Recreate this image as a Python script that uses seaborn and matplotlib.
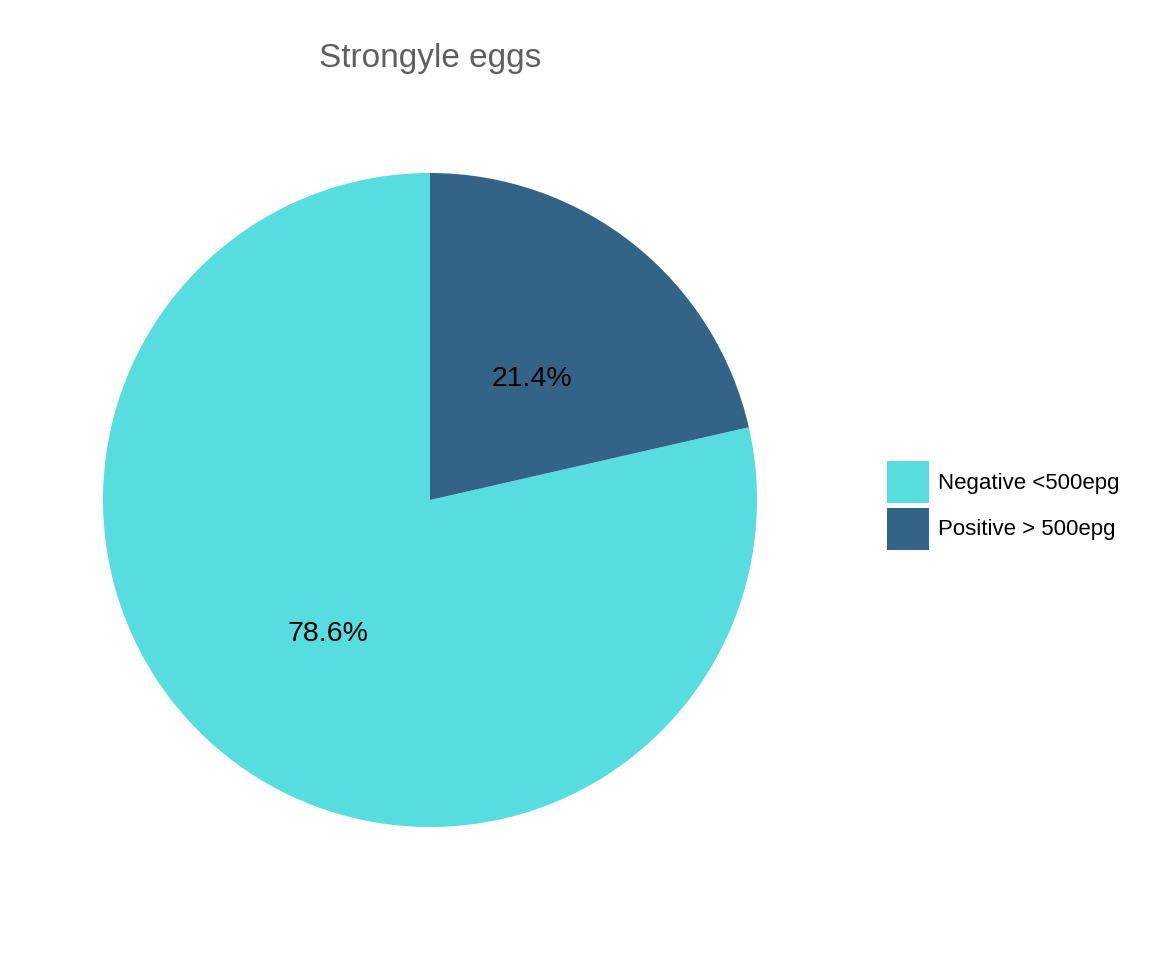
import seaborn as sns
import matplotlib.pyplot as plt

# data
categories = ['Negative <500epg', 'Positive > 500epg']
counts = [11, 3]
colors = ['#57DDE0', '#336488']
title = 'Strongyle eggs'

sns.set_theme(style='white')
plt.rcParams['font.family'] = ['Liberation Sans', 'DejaVu Sans']

fig = plt.figure(figsize=(11.52, 9.6), dpi=100)
ax = fig.add_axes([(430 - 327) / 1152, (960 - 827) / 960, 654 / 1152, 654 / 960])

wedges, texts, autotexts = ax.pie(counts, colors=colors, startangle=90, counterclock=True,
                                  autopct='%1.1f%%', pctdistance=0.5,
                                  textprops={'fontsize': 20.5, 'color': 'black'},
                                  wedgeprops={'linewidth': 0})
# nudge the percent labels down a little, like the original
for t in autotexts:
    x, y = t.get_position()
    t.set_position((x, y - 0.02))
ax.set_xlim(-1, 1)
ax.set_ylim(-1, 1)
ax.set_aspect('equal')
ax.axis('off')

fig.text(430 / 1152, 1 - 59 / 960, title, ha='center', va='center',
         fontsize=24, color='#5f5f5f')

fig.legend(wedges, categories, loc='center left',
           bbox_to_anchor=(887 / 1152, 1 - 505.5 / 960),
           frameon=False, fontsize=16, labelcolor='black',
           handlelength=1.89, handleheight=2.53,
           handletextpad=0.4, labelspacing=0.2, borderpad=0, borderaxespad=0)

plt.savefig('out.png', dpi=100)
